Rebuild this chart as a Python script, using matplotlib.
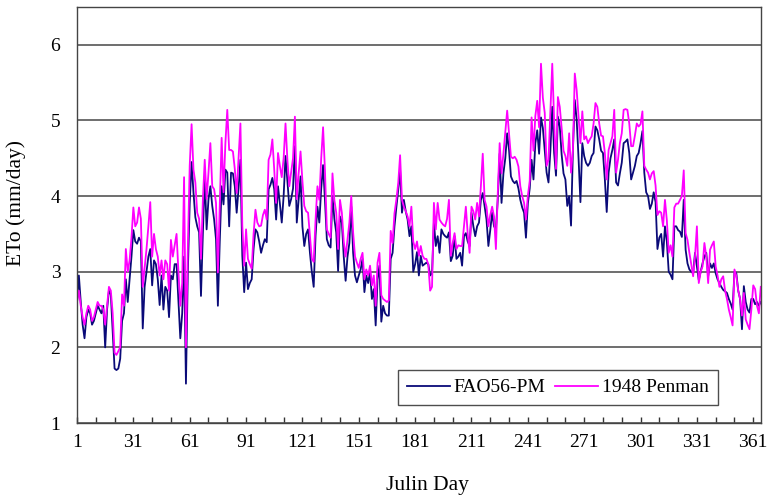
import matplotlib
matplotlib.use("Agg")
import matplotlib.pyplot as plt

# === Données (ETo journalière, mm/jour) ===
days = list(range(1, 366))

fao56_pm = [
    2.6, 2.95, 2.6, 2.3, 2.12, 2.4, 2.5, 2.45, 2.3, 2.35,
    2.45, 2.55, 2.5, 2.45, 2.55, 2.0, 2.5, 2.75, 2.7, 2.2,
    1.72, 1.7, 1.72, 1.85, 2.35, 2.45, 2.9, 2.6, 2.9, 3.2,
    3.55, 3.4, 3.37, 3.45, 3.4, 2.25, 2.8, 3.0, 3.2, 3.3,
    2.82, 3.15, 3.1, 2.9, 2.56, 2.95, 2.5, 2.8, 2.75, 2.4,
    2.95, 2.9, 3.1, 3.1, 2.6, 2.12, 2.45, 3.2, 1.52, 3.0,
    3.9, 4.45, 4.05, 3.72, 3.6, 3.52, 2.68, 3.5, 4.26, 3.56,
    3.96, 4.13, 3.87, 3.69, 3.43, 2.55, 3.4, 4.13, 3.89, 4.35,
    4.31, 3.6, 4.31, 4.3, 4.13, 3.78, 4.1, 4.48, 3.21, 2.73,
    3.12, 2.77, 2.85, 2.9, 3.3, 3.56, 3.52, 3.4, 3.25, 3.35,
    3.43, 3.39, 4.09, 4.15, 4.24, 4.09, 3.69, 4.13, 3.9, 3.65,
    4.0, 4.53, 4.2, 3.87, 3.96, 4.1, 4.66, 3.65, 3.95, 4.26,
    3.6, 3.34, 3.5, 3.56, 3.25, 3.0, 2.8, 3.48, 3.86, 3.65,
    4.1, 4.41, 3.95, 3.43, 3.35, 3.32, 4.0, 3.7, 3.52, 3.01,
    3.73, 3.65, 3.2, 2.88, 3.2, 3.38, 3.86, 3.25, 2.95, 2.86,
    2.95, 3.03, 3.17, 2.73, 2.95, 2.85, 3.0, 2.64, 2.77, 2.29,
    2.9, 3.08, 2.34, 2.55, 2.45, 2.42, 2.42, 3.17, 3.25, 3.6,
    3.85, 4.08, 4.34, 3.78, 3.95, 3.8, 3.69, 3.47, 3.6, 3.0,
    3.1, 3.26, 2.95, 3.21, 3.08, 3.1, 3.12, 3.1, 2.95, 2.98,
    3.65, 3.34, 3.47, 3.25, 3.56, 3.5, 3.47, 3.45, 3.52, 3.14,
    3.21, 3.47, 3.17, 3.2, 3.25, 3.08, 3.47, 3.51, 3.4, 3.34,
    3.78, 3.6, 3.47, 3.6, 3.65, 3.95, 4.04, 3.86, 3.69, 3.34,
    3.55, 3.78, 3.6, 3.56, 3.95, 4.56, 3.91, 4.3, 4.5, 4.83,
    4.61, 4.26, 4.2, 4.17, 4.2, 4.1, 3.95, 3.85, 3.78, 3.45,
    3.9, 4.1, 4.48, 4.22, 4.7, 4.87, 4.56, 5.04, 4.9, 4.6,
    4.31, 4.18, 4.6, 5.18, 4.57, 4.27, 5.05, 4.92, 4.55, 4.3,
    4.22, 3.87, 4.0, 3.61, 4.61, 5.27, 5.01, 4.5, 3.92, 4.7,
    4.53, 4.44, 4.4, 4.44, 4.53, 4.57, 4.92, 4.87, 4.75, 4.6,
    4.57, 4.22, 3.79, 4.31, 4.5, 4.61, 4.75, 4.18, 4.14, 4.3,
    4.44, 4.7, 4.72, 4.75, 4.57, 4.22, 4.31, 4.4, 4.53, 4.57,
    4.7, 4.86, 4.31, 4.05, 4.0, 3.83, 3.9, 4.05, 3.92, 3.3,
    3.45, 3.5, 3.2, 3.6, 3.4, 3.0, 2.96, 2.9, 3.6, 3.6,
    3.55, 3.53, 3.46, 3.95, 3.29, 3.11, 3.03, 3.0, 2.98, 3.25,
    3.07, 2.89, 3.0, 3.11, 3.2, 3.25, 2.94, 3.11, 3.05, 3.11,
    2.98, 2.9, 2.85, 2.8, 2.76, 2.74, 2.72, 2.64, 2.58, 2.5,
    3.0, 2.98, 2.75, 2.64, 2.24, 2.81, 2.6, 2.5, 2.46, 2.64,
    2.64, 2.57, 2.6, 2.55, 2.6,
]

penman_1948 = [
    2.6, 2.75, 2.55, 2.4, 2.3, 2.45, 2.55, 2.5, 2.35, 2.4,
    2.5, 2.6, 2.55, 2.55, 2.5, 2.3, 2.55, 2.8, 2.75, 2.45,
    1.93, 1.9, 1.95, 2.0, 2.7, 2.55, 3.3, 3.0, 3.15, 3.45,
    3.85, 3.6, 3.65, 3.85, 3.7, 2.8, 3.05, 3.3, 3.6, 3.92,
    3.2, 3.5, 3.3, 3.2, 2.95, 3.15, 2.9, 3.15, 3.1, 2.75,
    3.42, 3.2, 3.35, 3.5, 3.0, 2.55, 2.85, 4.25, 2.0, 3.3,
    4.4, 4.95, 4.35, 4.18, 3.78, 3.7, 3.17, 3.95, 4.48, 3.96,
    4.31, 4.7, 4.13, 4.09, 3.91, 2.99, 3.9, 4.77, 4.05, 4.7,
    5.14, 4.61, 4.61, 4.59, 4.36, 4.04, 4.5, 4.96, 3.61, 3.08,
    3.56, 3.17, 3.1, 3.04, 3.5, 3.82, 3.65, 3.6, 3.61, 3.75,
    3.82, 3.69, 4.48, 4.55, 4.75, 4.35, 3.91, 4.57, 4.4, 4.25,
    4.5, 4.96, 4.48, 4.13, 4.31, 4.5, 5.05, 3.96, 4.3, 4.59,
    4.2, 3.87, 3.8, 3.78, 3.47, 3.17, 3.13, 3.69, 4.13, 3.95,
    4.5, 4.91, 4.34, 3.56, 3.5, 3.45, 4.3, 3.95, 3.78, 3.3,
    3.95, 3.78, 3.4, 3.2, 3.43, 3.65, 4.0, 3.52, 3.2, 3.12,
    3.05, 3.17, 3.25, 2.9, 3.03, 2.95, 3.08, 2.82, 2.95, 2.55,
    3.12, 3.25, 2.69, 2.64, 2.62, 2.6, 2.62, 3.54, 3.38, 3.77,
    3.95, 4.17, 4.54, 3.95, 3.86, 3.8, 3.73, 3.6, 3.86, 3.4,
    3.3, 3.4, 3.21, 3.34, 3.21, 3.17, 3.17, 3.1, 2.75, 2.8,
    3.91, 3.56, 3.91, 3.69, 3.65, 3.62, 3.6, 3.7, 3.95, 3.21,
    3.38, 3.51, 3.3, 3.35, 3.34, 3.34, 3.6, 3.86, 3.5, 3.25,
    3.86, 3.8, 3.69, 3.91, 3.73, 4.13, 4.56, 3.95, 3.86, 3.6,
    3.75, 3.86, 3.73, 3.3, 4.04, 4.7, 4.3, 4.56, 4.85, 5.13,
    4.83, 4.52, 4.5, 4.52, 4.48, 4.39, 4.13, 4.0, 3.91, 3.69,
    4.0, 4.2, 5.04, 4.6, 5.06, 5.26, 4.91, 5.75, 5.3, 5.1,
    4.4, 4.48, 5.1, 5.75, 5.0, 4.36, 5.31, 5.18, 4.9, 4.6,
    4.53, 4.4, 4.83, 4.31, 4.61, 5.62, 5.4, 5.05, 4.7, 5.12,
    4.75, 4.79, 4.7, 4.75, 4.79, 4.96, 5.23, 5.18, 4.96, 4.8,
    4.79, 4.57, 4.22, 4.61, 4.7, 4.79, 5.14, 4.31, 4.48, 4.7,
    4.83, 5.14, 5.15, 5.14, 4.96, 4.66, 4.66, 4.8, 4.96, 4.92,
    4.95, 5.12, 4.4, 4.35, 4.31, 4.22, 4.3, 4.33, 4.14, 3.75,
    3.8, 3.78, 3.6, 3.95, 3.68, 3.25, 3.35, 3.2, 3.85, 3.9,
    3.9, 3.95, 4.0, 4.34, 3.51, 3.42, 3.25, 3.1, 2.94, 3.2,
    3.6, 2.85, 3.0, 3.07, 3.38, 3.2, 2.85, 3.29, 3.35, 3.4,
    3.07, 2.95, 2.8, 2.9, 2.94, 2.75, 2.64, 2.5, 2.4, 2.29,
    3.03, 2.94, 2.75, 2.64, 2.42, 2.72, 2.37, 2.3, 2.24, 2.5,
    2.82, 2.77, 2.55, 2.45, 2.8,
]

x_labels = list(range(1, 362, 30))
x_minor = list(range(1, 366, 10))
y_ticks = [1, 2, 3, 4, 5, 6]

# === Figure ===
plt.rcParams['font.family'] = ['Liberation Serif', 'DejaVu Serif']

fig = plt.figure(figsize=(7.7, 5.0), dpi=100)
ax = fig.add_axes([0.100, 0.154, 0.888, 0.832])

ax.plot(days, fao56_pm, color='#0a0a78', lw=1.3, label='FAO56-PM')
ax.plot(days, penman_1948, color='#ff00ff', lw=1.3, label='1948 Penman')

ax.set_xlim(1, 365)
ax.set_ylim(1, 6.5)
ax.set_yticks(y_ticks)
ax.set_xticks(x_labels)
ax.set_xticks(x_minor, minor=True)
ax.tick_params(axis='y', length=0, pad=12, labelsize=14)
ax.tick_params(axis='x', which='both', direction='in', length=4.5, width=1,
               color='#333333', pad=8, labelsize=14)

ax.grid(axis='y', color='#555555', lw=1.2)
ax.set_axisbelow(True)
for s in ax.spines.values():
    s.set_color('#444444')
    s.set_linewidth(1.0)

ax.set_xlabel('Julin Day', fontsize=15.5, va='top')
ax.xaxis.set_label_coords(0.512, -0.128)
ax.set_ylabel('ETo (mm/day)', fontsize=15.5, va='top')
ax.yaxis.set_label_coords(-0.103, 0.53)

leg = ax.legend(loc='lower right', bbox_to_anchor=(0.937, 0.043), ncol=2,
                fontsize=14, frameon=True, fancybox=False, handlelength=2.2,
                handletextpad=0.2, columnspacing=0.5, borderpad=0.45,
                borderaxespad=0)
leg.get_frame().set_edgecolor('#222222')
leg.get_frame().set_linewidth(1.0)

fig.savefig('out.png', dpi=100)
